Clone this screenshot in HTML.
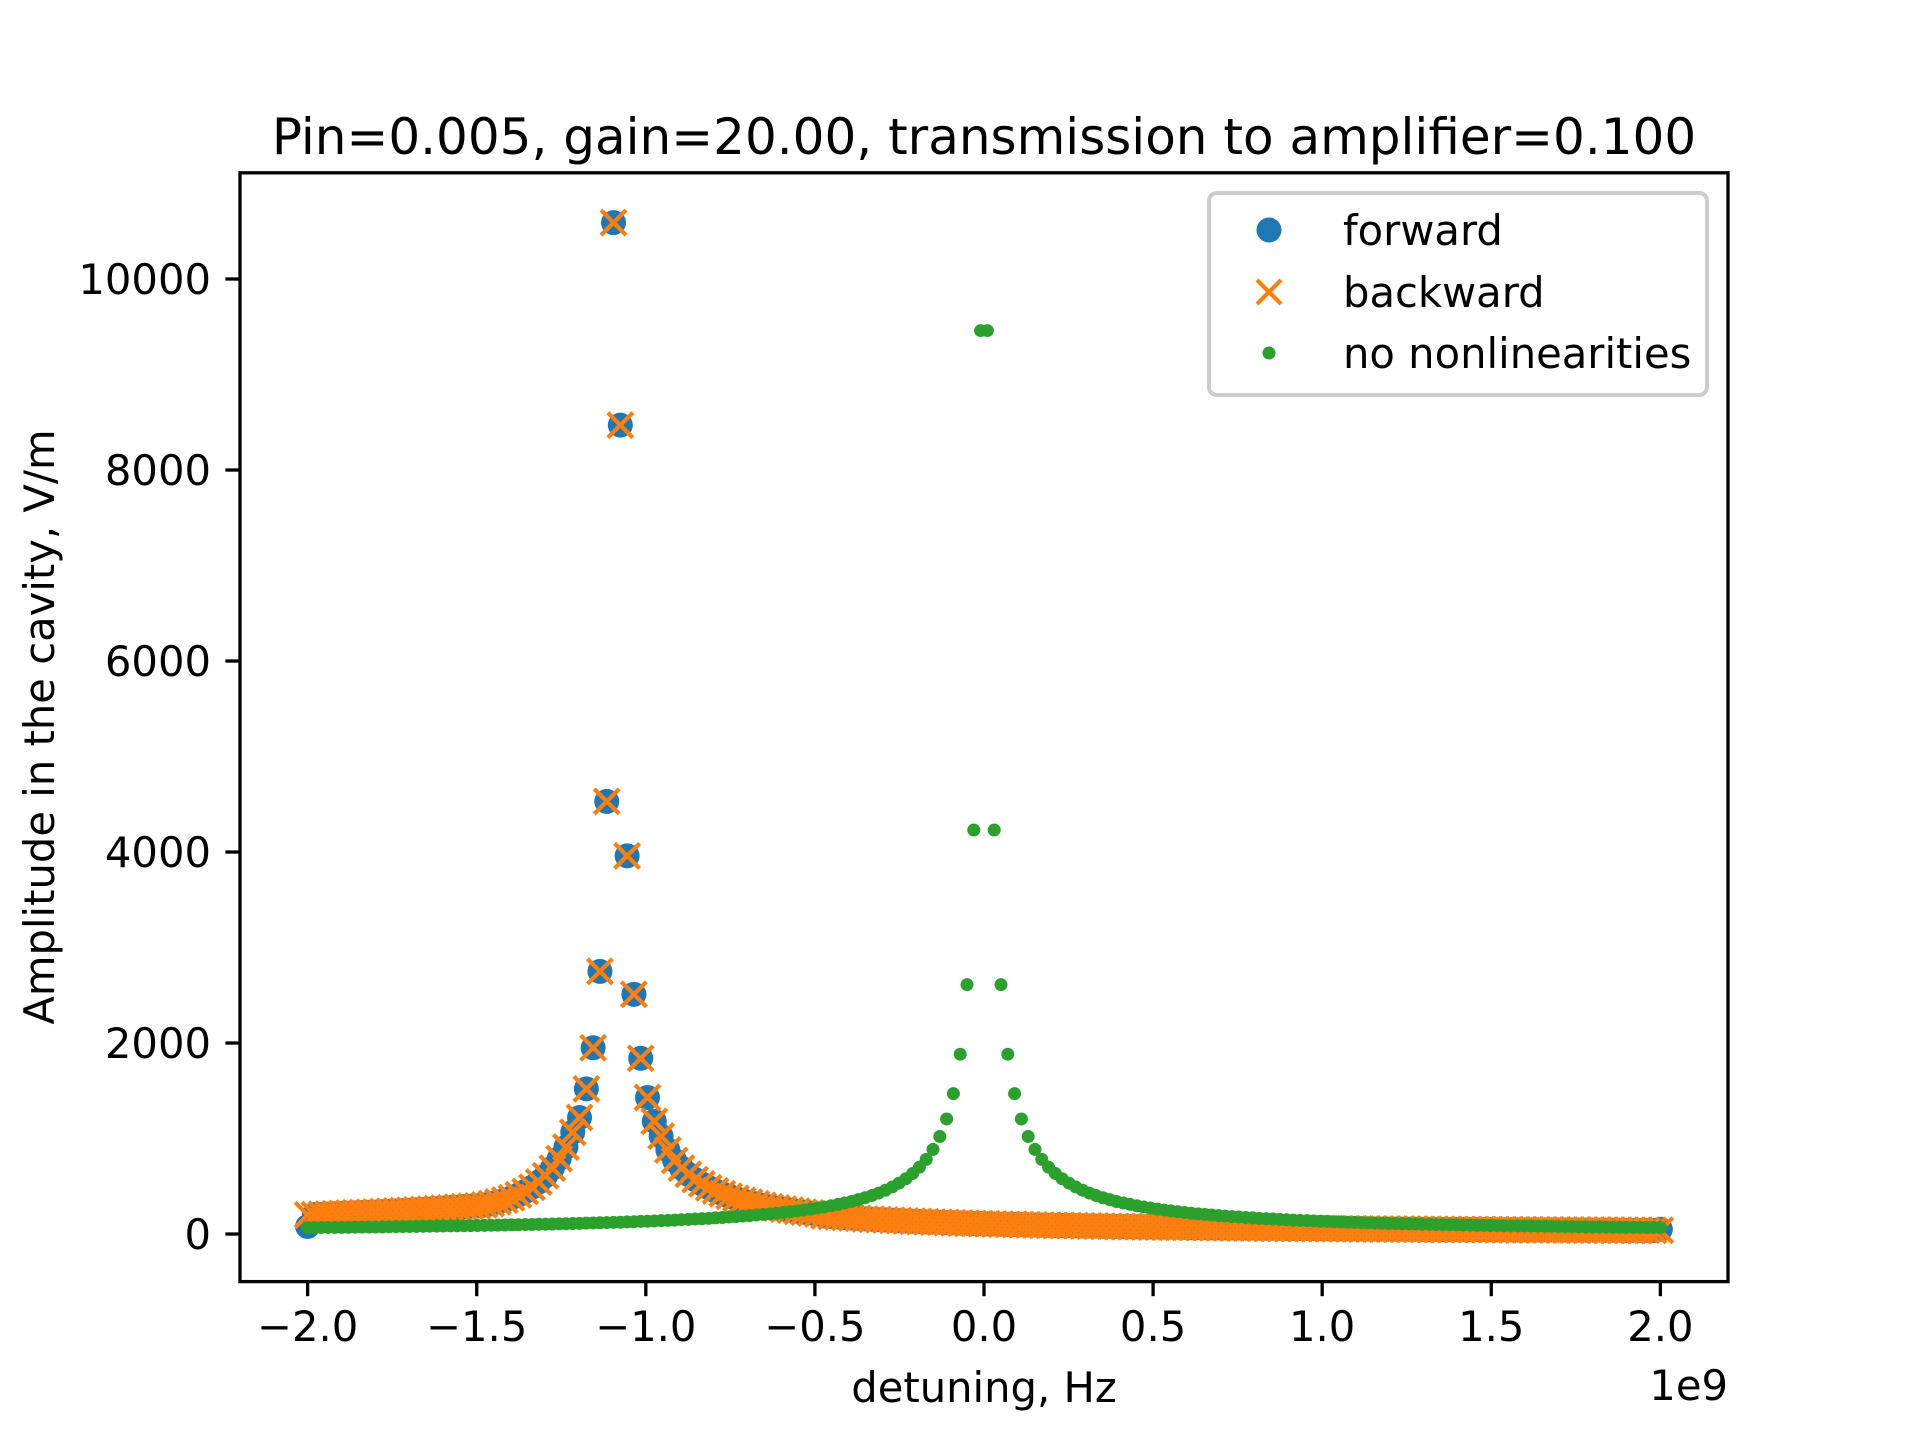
<!DOCTYPE html>
<html><head><meta charset="utf-8"><style>
html,body{margin:0;padding:0;background:#fff;}
svg text{font-family:"DejaVu Sans","Liberation Sans",sans-serif;}
</style></head><body>
<svg id="chart" width="1920" height="1440" viewBox="0 0 1920 1440" xmlns="http://www.w3.org/2000/svg">
<rect x="0" y="0" width="1920" height="1440" fill="#fff"/>
<text x="984" y="154" font-size="50" text-anchor="middle">Pin=0.005, gain=20.00, transmission to amplifier=0.100</text>
<g id="marks"></g>
<rect x="240" y="172.8" width="1488" height="1108.8" fill="none" stroke="#000" stroke-width="3.3"/>
<g id="xticks"></g>
<g id="yticks"></g>
<text x="984" y="1402" font-size="41.7" text-anchor="middle">detuning, Hz</text>
<text x="1728" y="1400" font-size="41.7" text-anchor="end">1e9</text>
<text transform="translate(54,727) rotate(-90)" font-size="41.7" text-anchor="middle">Amplitude in the cavity, V/m</text>
<g>
<rect x="1209" y="193" width="498" height="202" rx="8" fill="#fff" fill-opacity="0.8" stroke="#cccccc" stroke-width="4"/>
<circle cx="1269" cy="230" r="12.5" fill="#1f77b4"/>
<text x="1343" y="245" font-size="41.7">forward</text>
<path d="M1257,280 L1281,304 M1281,280 L1257,304" stroke="#ff7f0e" stroke-width="4.2"/>
<text x="1343" y="307" font-size="41.7">backward</text>
<circle cx="1269" cy="353" r="6.5" fill="#2ca02c"/>
<text x="1343" y="368" font-size="41.7">no nonlinearities</text>
</g>
</svg>
<script>
const xStart = -2e9, xEnd = 2e9, nPoints = 200;
const xTickValues = [-2.0,-1.5,-1.0,-0.5,0.0,0.5,1.0,1.5,2.0];
const xTickLabels = ["\u22122.0","\u22121.5","\u22121.0","\u22120.5","0.0","0.5","1.0","1.5","2.0"];
const yTickValues = [0,2000,4000,6000,8000,10000];
const yTickLabels = ["0","2000","4000","6000","8000","10000"];
const backward = [200,203,206,209,212,215,218,221,224,227,230,233,237,241,245,249,253,257,261,266,271,276,281,287,291,295,305,318,335,355,380,410,445,490,545,610,690,790,910,1066,1220,1520,1950,2750,4530,10590,8470,3960,2510,1840,1430,1180,1025,880,770,690,625,570,525,485,452,422,396,373,352,333,316,300,286,273,261,250,239,229,220,211,190,184,179,173,168,164,159,155,151,147,144,140,137,134,131,128,125,123,120,118,115,113,111,109,107,105,103,101,100,98,96,95,93,92,90,89,88,87,85,84,83,82,81,79,78,77,76,75,74,73,73,72,71,70,69,68,68,67,66,65,65,64,63,63,62,61,61,60,59,59,58,58,57,57,56,55,55,54,54,53,53,52,52,52,51,51,50,50,49,49,49,48,48,47,47,47,46,46,46,45,45,45,44,44,44,43,43,43,42,42,42,41,41,41,41,40,40,40,39,39,39,39,38,38];
const forward = [80,203,206,209,212,215,218,221,224,227,230,233,237,241,245,249,253,257,261,266,271,276,281,287,291,295,305,318,335,355,380,410,445,490,545,610,690,790,910,1066,1220,1520,1950,2750,4530,10590,8470,3960,2510,1840,1430,1180,1025,880,770,690,625,570,525,485,452,422,396,373,352,333,316,300,286,273,261,250,239,229,220,211,190,184,179,173,168,164,159,155,151,147,144,140,137,134,131,128,125,123,120,118,115,113,111,109,107,105,103,101,100,98,96,95,93,92,90,89,88,87,85,84,83,82,81,79,78,77,76,75,74,73,73,72,71,70,69,68,68,67,66,65,65,64,63,63,62,61,61,60,59,59,58,58,57,57,56,55,55,54,54,53,53,52,52,52,51,51,50,50,49,49,49,48,48,47,47,47,46,46,46,45,45,45,44,44,44,43,43,43,42,42,42,41,41,41,41,40,40,40,39,39,39,39,38,50];
const noNonlin = [67,68,68,69,70,70,71,72,73,74,74,75,76,77,78,79,80,81,82,83,84,85,86,87,88,89,91,92,93,94,96,97,99,100,102,103,105,107,108,110,112,114,116,118,120,122,124,127,129,132,134,137,140,143,146,150,153,157,160,164,169,173,178,182,188,193,199,205,211,218,226,234,242,251,261,272,283,296,310,325,341,360,380,403,429,459,493,533,579,634,700,782,886,1021,1205,1470,1883,2611,4230,9460,
9460,4230,2611,1883,1470,1205,1021,886,782,700,634,579,533,493,459,429,403,380,360,341,325,310,296,283,272,261,251,242,234,226,218,211,205,199,193,188,182,178,173,169,164,160,157,153,150,146,143,140,137,134,132,129,127,124,122,120,118,116,114,112,110,108,107,105,103,102,100,99,97,96,94,93,92,91,89,88,87,86,85,84,83,82,81,80,79,78,77,76,75,74,74,73,72,71,70,70,69,68,68,67];

const AX = {left:240, right:1728, top:172.8, bottom:1281.6, xmin:-2.2e9, xmax:2.2e9, ymin:-498, ymax:11112};
function xScale(v){ return AX.left + (v-AX.xmin)/(AX.xmax-AX.xmin)*(AX.right-AX.left); }
function yScale(v){ return AX.bottom - (v-AX.ymin)/(AX.ymax-AX.ymin)*(AX.bottom-AX.top); }
function xAt(i){ return xStart + (xEnd-xStart)*i/(nPoints-1); }
const NS = "http://www.w3.org/2000/svg";
const marks = document.getElementById('marks');
function mk(tag, attrs, parent){ const e=document.createElementNS(NS,tag); for(const k in attrs) e.setAttribute(k,attrs[k]); parent.appendChild(e); return e; }

const gF = mk('g',{},marks);


forward.forEach((v,i)=>{
  const c = mk('circle',{cx:xScale(xAt(i)),cy:yScale(v),r:12.5,fill:'#1f77b4'},gF);
  
  
});
const gB = mk('g',{},marks);


backward.forEach((v,i)=>{
  const x=xScale(xAt(i)), y=yScale(v), h=12.5;
  const p = mk('path',{d:`M${x-h},${y-h}L${x+h},${y+h}M${x+h},${y-h}L${x-h},${y+h}`,stroke:'#ff7f0e','stroke-width':4.2,fill:'none'},gB);
  
  
});
const gG = mk('g',{},marks);


noNonlin.forEach((v,i)=>{
  const c = mk('circle',{cx:xScale(xAt(i)),cy:yScale(v),r:6.5,fill:'#2ca02c'},gG);
  
  
});

const gx = document.getElementById('xticks');
xTickValues.forEach((t,i)=>{
  const x = xScale(t*1e9);
  const l = mk('line',{x1:x,x2:x,y1:AX.bottom,y2:AX.bottom+14.6,stroke:'#000','stroke-width':3.3},gx);
  
  
  const tx = mk('text',{x:x,y:1341,'font-size':41.7,'text-anchor':'middle'},gx);
  tx.textContent = xTickLabels[i];
  
  
});
const gy = document.getElementById('yticks');
yTickValues.forEach((t,i)=>{
  const y = yScale(t);
  const l = mk('line',{x1:AX.left-14.6,x2:AX.left,y1:y,y2:y,stroke:'#000','stroke-width':3.3},gy);
  
  
  const tx = mk('text',{x:211,y:y+15,'font-size':41.7,'text-anchor':'end'},gy);
  tx.textContent = yTickLabels[i];
  
  
});
</script>
</body></html>
